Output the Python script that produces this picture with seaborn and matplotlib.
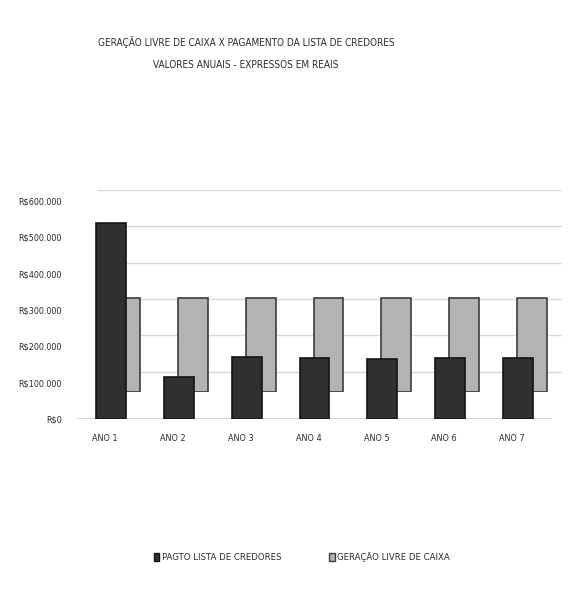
import matplotlib
matplotlib.use("Agg")
import matplotlib.pyplot as plt
import matplotlib.transforms as mtransforms
import seaborn as sns
import pandas as pd
from matplotlib.patches import Patch

# Annual values (R$)
anos = ["ANO 1", "ANO 2", "ANO 3", "ANO 4", "ANO 5", "ANO 6", "ANO 7"]
pagto_credores = [540000, 115000, 172000, 167000, 164000, 168000, 168000]
geracao_caixa = [260000, 260000, 260000, 260000, 260000, 260000, 260000]
y_ticks = [0, 100000, 200000, 300000, 400000, 500000, 600000]
y_tick_labels = ["R$0", "R$100.000", "R$200.000", "R$300.000",
                 "R$400.000", "R$500.000", "R$600.000"]

titulo = "GERAÇÃO LIVRE DE CAIXA X PAGAMENTO DA LISTA DE CREDORES"
subtitulo = "VALORES ANUAIS - EXPRESSOS EM REAIS"
serie_front = "PAGTO LISTA DE CREDORES"
serie_back = "GERAÇÃO LIVRE DE CAIXA"

sns.set_theme(style="white")
plt.rcParams["font.family"] = ["DejaVu Sans"]
plt.rcParams["font.stretch"] = "condensed"
TXT = "#2a2a2a"

W, H = 573, 595
fig = plt.figure(figsize=(W / 100, H / 100), dpi=100)
fig.patch.set_facecolor("white")


def rect(left, bottom, width, height):
    """Pixel box (top-left origin) -> figure fraction."""
    return [left / W, 1 - bottom / H, width / W, height / H]


df = pd.DataFrame({"ano": anos, "pagto": pagto_credores, "geracao": geracao_caixa})
ymax = y_ticks[-1]

# back wall with gridlines
ax_wall = fig.add_axes(rect(97, 408, 465, 218))
ax_wall.set_xlim(0, 1)
ax_wall.set_ylim(0, ymax)
ax_wall.set_yticks(y_ticks[1:])
ax_wall.yaxis.grid(True, color="#d8d8d8", linewidth=1.0)
ax_wall.tick_params(left=False, labelleft=False, bottom=False, labelbottom=False)
for s in ax_wall.spines.values():
    s.set_visible(False)
ax_wall.patch.set_alpha(0)

# rear series (depth row)
ax_back = fig.add_axes(rect(91, 392, 475, 218))
sns.barplot(data=df, x="ano", y="geracao", ax=ax_back, color="#b3b3b3",
            width=0.44, edgecolor="#3c3c3c", linewidth=1.2, saturation=1)
ax_back.set_xlim(-0.5, 6.5)
ax_back.set_ylim(0, ymax)
ax_back.axis("off")
ax_back.patch.set_alpha(0)

# front series
ax = fig.add_axes(rect(77, 419, 475, 218))
sns.barplot(data=df, x="ano", y="pagto", ax=ax, color="#303030",
            width=0.44, edgecolor="#141414", linewidth=1.2, saturation=1)
ax.set_xlim(-0.5, 6.5)
ax.set_ylim(0, ymax)
ax.patch.set_alpha(0)
for s in ax.spines.values():
    s.set_visible(False)
ax.axhline(0, color="#d0d0d0", linewidth=1.2, zorder=0)
ax.set_yticks(y_ticks)
ax.set_yticklabels(y_tick_labels, fontsize=6.5, color=TXT)
ax.tick_params(axis="y", length=0, pad=11)
ax.tick_params(axis="x", length=0, pad=11, labelsize=6.5, labelcolor=TXT)
shift = mtransforms.ScaledTranslation(-6 / 100, 0, fig.dpi_scale_trans)
for lbl in ax.get_xticklabels():
    lbl.set_transform(lbl.get_transform() + shift)
ax.set_xlabel("")
ax.set_ylabel("")

# titles
fig.text(246 / W, 1 - 42 / H, titulo, ha="center", va="center",
         fontsize=7.2, color=TXT)
fig.text(246 / W, 1 - 65 / H, subtitulo, ha="center", va="center",
         fontsize=7.2, color=TXT)

# legend
handles = [Patch(facecolor="#303030", edgecolor="#141414", label=serie_front),
           Patch(facecolor="#b3b3b3", edgecolor="#3c3c3c", label=serie_back)]
fig.legend(handles=handles, loc="center", bbox_to_anchor=(302 / W, 1 - 557 / H),
           ncol=2, frameon=False, fontsize=6.8, handlelength=0.6,
           handleheight=0.9, handletextpad=0.3, columnspacing=5.0,
           labelcolor=TXT)

fig.savefig("out.png", dpi=100, facecolor="white")
